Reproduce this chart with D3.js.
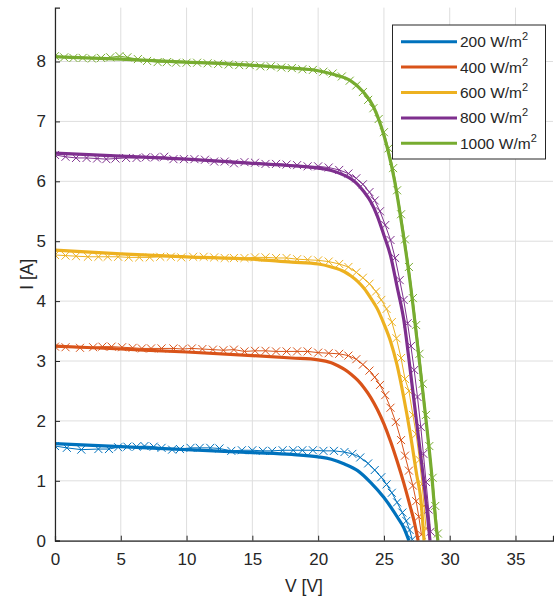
<!DOCTYPE html>
<html>
<head>
<meta charset="utf-8">
<script src="https://cdn.jsdelivr.net/npm/d3@7"></script>
<style>
  body { margin: 0; background: #fff; }
  text { font-family: "Liberation Sans", Arial, sans-serif; fill: #262626; }
</style>
</head>
<body>
<div id="chart"></div>
<script>
// irradiance levels (legend)
var labels = ["200", "400", "600", "800", "1000"];
var colors = ["#0072BD", "#D95319", "#EDB120", "#7E2F8E", "#77AC30"];
var xTicks = [0, 5, 10, 15, 20, 25, 30, 35];
var yTicks = [0, 1, 2, 3, 4, 5, 6, 7, 8];

// model curves [V, I]
var model200 = [[0,1.62],[5,1.57],[10,1.52],[15,1.47],[18,1.44],[20,1.40],[21,1.36],[22,1.28],[23,1.17],[24,0.97],[25,0.72],[26,0.40],[26.5,0.22],[26.9,0]];
var model400 = [[0,3.25],[5,3.20],[10,3.15],[15,3.09],[18,3.05],[20,3.02],[21,2.97],[21.5,2.92],[22,2.86],[22.5,2.78],[23,2.68],[23.5,2.55],[24,2.39],[24.5,2.19],[25,1.95],[25.5,1.66],[26,1.33],[26.5,0.97],[27,0.57],[27.3,0.32],[27.6,0]];
var model600 = [[0,4.85],[5,4.79],[10,4.74],[15,4.70],[18,4.65],[20,4.62],[21,4.57],[22,4.49],[22.5,4.42],[23,4.33],[23.5,4.21],[24,4.05],[24.5,3.87],[25,3.62],[25.5,3.33],[26,2.93],[26.5,2.40],[27,1.79],[27.5,1.09],[27.8,0.70],[28.05,0]];
var model800 = [[0,6.47],[5,6.42],[10,6.37],[15,6.30],[18,6.26],[20,6.22],[21,6.18],[22,6.10],[22.5,6.04],[23,5.95],[23.5,5.82],[24,5.66],[24.5,5.42],[25,5.10],[25.5,4.76],[26,4.24],[26.5,3.70],[27,2.85],[27.5,1.95],[28,1.05],[28.3,0.45],[28.5,0]];
var model1000 = [[0,8.08],[5,8.04],[10,7.99],[14.8,7.94],[18,7.89],[19.9,7.85],[21.4,7.77],[22.4,7.69],[23.4,7.50],[24.2,7.25],[24.8,6.91],[25.3,6.52],[25.8,6.02],[26.46,5.13],[27,4.30],[27.6,3.18],[28,2.40],[28.6,1.18],[29,0.18],[29.1,0]];

// measured points [V, I]
var meas200 = [[0,1.58],[0.9,1.55],[2,1.52],[3.3,1.53],[4.1,1.53],[4.8,1.56],[5.5,1.57],[6.2,1.57],[6.8,1.58],[7.5,1.57],[8.1,1.55],[8.9,1.52],[9.5,1.53],[10.3,1.55],[11,1.55],[11.8,1.55],[12.5,1.54],[13.4,1.50],[14.2,1.51],[15,1.51],[15.8,1.50],[16.5,1.50],[17.3,1.51],[18.1,1.51],[18.8,1.51],[19.6,1.51],[20.4,1.50],[21.2,1.50],[22,1.48],[22.6,1.45],[23.2,1.39],[23.8,1.29],[24.3,1.18],[24.8,1.06],[25.2,0.94],[25.6,0.80],[26,0.64],[26.4,0.47],[26.7,0.33],[26.95,0.18],[27.15,0.02]];
var meas400 = [[0,3.24],[0.8,3.23],[1.9,3.22],[2.9,3.23],[3.6,3.24],[4.3,3.24],[5.1,3.23],[5.9,3.22],[6.6,3.21],[7.3,3.21],[8.1,3.21],[9,3.21],[9.7,3.20],[10.4,3.21],[11.2,3.20],[12,3.19],[12.8,3.18],[13.6,3.19],[14.4,3.16],[15.2,3.17],[16,3.17],[16.8,3.16],[17.6,3.16],[18.4,3.16],[19.2,3.16],[20,3.14],[20.8,3.13],[21.6,3.12],[22.3,3.09],[22.9,3.03],[23.4,2.94],[23.9,2.84],[24.3,2.73],[24.7,2.60],[25.1,2.43],[25.5,2.22],[25.9,1.98],[26.3,1.68],[26.6,1.42],[26.9,1.17],[27.2,0.92],[27.45,0.66],[27.65,0.40],[27.85,0.10]];
var meas600 = [[0,4.77],[0.8,4.76],[1.6,4.75],[2.5,4.74],[3.3,4.74],[4,4.74],[4.8,4.74],[5.6,4.73],[6.4,4.73],[7.2,4.73],[8,4.74],[8.8,4.74],[9.6,4.73],[10.5,4.74],[11.3,4.74],[12.1,4.73],[12.9,4.72],[13.6,4.72],[14.4,4.72],[15.2,4.73],[16,4.73],[16.8,4.72],[17.6,4.72],[18.4,4.70],[19.2,4.69],[20,4.68],[20.8,4.66],[21.6,4.62],[22.3,4.57],[22.9,4.48],[23.4,4.39],[23.9,4.29],[24.4,4.16],[24.8,4.02],[25.2,3.87],[25.6,3.65],[25.95,3.38],[26.3,3.05],[26.6,2.70],[26.9,2.50],[27.2,2.10],[27.45,1.78],[27.7,1.35],[27.9,0.95],[28.05,0.58],[28.2,0.20]];
var meas800 = [[0,6.44],[0.8,6.41],[1.6,6.39],[2.4,6.39],[3.2,6.38],[3.9,6.37],[4.6,6.38],[5.4,6.39],[6.2,6.39],[6.9,6.40],[7.6,6.40],[8.3,6.41],[9,6.37],[9.8,6.37],[10.6,6.37],[11.4,6.36],[12.1,6.33],[12.9,6.33],[13.6,6.30],[14.4,6.32],[15.2,6.31],[16,6.29],[16.8,6.29],[17.6,6.28],[18.4,6.27],[19.2,6.25],[20,6.25],[20.8,6.23],[21.6,6.19],[22.3,6.13],[22.9,6.05],[23.4,5.95],[23.9,5.82],[24.3,5.68],[24.7,5.50],[25.1,5.27],[25.5,5.02],[25.85,4.72],[26.2,4.35],[26.5,4.02],[26.8,3.63],[27.05,3.25],[27.3,2.85],[27.55,2.40],[27.8,1.90],[28,1.45],[28.2,0.98],[28.4,0.52],[28.55,0.15]];
var meas1000 = [[0,8.09],[0.7,8.07],[1.4,8.06],[2.1,8.06],[2.8,8.05],[3.5,8.06],[4.2,8.07],[4.9,8.09],[5.5,8.07],[6.3,8.04],[7,8.01],[7.8,7.99],[8.5,7.99],[9.2,7.98],[10,7.98],[10.8,7.98],[11.6,7.97],[12.4,7.96],[13.2,7.95],[14,7.94],[14.8,7.94],[15.6,7.92],[16.4,7.92],[17.2,7.90],[18,7.89],[18.8,7.87],[19.6,7.86],[20.4,7.83],[21.1,7.80],[21.8,7.75],[22.4,7.68],[22.9,7.60],[23.4,7.49],[23.8,7.36],[24.2,7.22],[24.6,7.04],[25,6.82],[25.35,6.55],[25.7,6.22],[26,5.85],[26.3,5.45],[26.6,5.03],[26.9,4.57],[27.2,4.05],[27.45,3.60],[27.7,3.12],[27.95,2.62],[28.2,2.10],[28.45,1.58],[28.7,1.05],[28.9,0.58],[29.1,0.12]];

var models = [model200, model400, model600, model800, model1000];
var measured = [meas200, meas400, meas600, meas800, meas1000];

var W = 554, H = 601;
var pLeft = 55, pRight = 553, pTop = 7.6, pBottom = 540.7;

var svg = d3.select("#chart").append("svg")
  .attr("width", W).attr("height", H);

var x = d3.scaleLinear().domain([0, 37.85]).range([pLeft, pRight]);
var y = d3.scaleLinear().domain([0, 8.9]).range([pBottom, pTop]);

svg.append("clipPath").attr("id", "clip")
  .append("rect").attr("x", pLeft).attr("y", pTop)
  .attr("width", pRight - pLeft).attr("height", pBottom - pTop);

// grid
svg.append("g").selectAll("line").data(xTicks).enter().append("line")
  .attr("x1", function(d){ return x(d); }).attr("x2", function(d){ return x(d); })
  .attr("y1", pTop).attr("y2", pBottom)
  .attr("stroke", "#dedede").attr("stroke-width", 1);
svg.append("g").selectAll("line").data(yTicks).enter().append("line")
  .attr("x1", pLeft).attr("x2", pRight)
  .attr("y1", function(d){ return y(d); }).attr("y2", function(d){ return y(d); })
  .attr("stroke", "#dedede").attr("stroke-width", 1);

var line = d3.line()
  .x(function(d){ return x(d[0]); })
  .y(function(d){ return y(d[1]); });
var smooth = d3.line()
  .x(function(d){ return x(d[0]); })
  .y(function(d){ return y(d[1]); })
  .curve(d3.curveMonotoneX);

var plot = svg.append("g").attr("clip-path", "url(#clip)");

for (var i = 0; i < labels.length; i++) {
  plot.append("path")
    .attr("d", smooth(models[i]))
    .attr("fill", "none")
    .attr("stroke", colors[i])
    .attr("stroke-width", 3.2);

  plot.append("path")
    .attr("d", line(measured[i]))
    .attr("fill", "none")
    .attr("stroke", colors[i])
    .attr("stroke-width", 1);

  var s = 4;
  plot.append("g").selectAll("path").data(measured[i]).enter().append("path")
    .attr("d", function(d){
      var cx = x(d[0]), cy = y(d[1]);
      return "M" + (cx - s) + "," + (cy - s) + "L" + (cx + s) + "," + (cy + s) +
             "M" + (cx - s) + "," + (cy + s) + "L" + (cx + s) + "," + (cy - s);
    })
    .attr("stroke", colors[i])
    .attr("stroke-width", 1);
}

// axes
var xAxis = svg.append("g")
  .attr("transform", "translate(0," + pBottom + ")")
  .call(d3.axisBottom(x).tickValues(xTicks).tickSize(-5).tickPadding(12));
var yAxis = svg.append("g")
  .attr("transform", "translate(" + pLeft + ",0)")
  .call(d3.axisLeft(y).tickValues(yTicks).tickSize(-5).tickPadding(9));

[xAxis, yAxis].forEach(function(a){
  a.select(".domain").attr("stroke", "#262626").attr("stroke-width", 1.2);
  a.selectAll(".tick line").attr("stroke", "#262626");
  a.selectAll(".tick text").style("font-size", "17px")
    .style("font-family", "'Liberation Sans', Arial, sans-serif").attr("fill", "#262626");
});

svg.append("text")
  .attr("x", (pLeft + pRight) / 2).attr("y", 592)
  .attr("text-anchor", "middle")
  .style("font-size", "17.5px")
  .text("V [V]");

svg.append("text")
  .attr("transform", "translate(33," + ((pTop + pBottom) / 2) + ") rotate(-90)")
  .attr("text-anchor", "middle")
  .style("font-size", "17.5px")
  .text("I [A]");

// legend
var lg = svg.append("g");
lg.append("rect")
  .attr("x", 392.5).attr("y", 25).attr("width", 153).attr("height", 134)
  .attr("fill", "#fff").attr("stroke", "#262626").attr("stroke-width", 1);

labels.forEach(function(lab, i){
  var ly = 41.7 + i * 25.4;
  lg.append("line")
    .attr("x1", 401).attr("x2", 457)
    .attr("y1", ly).attr("y2", ly)
    .attr("stroke", colors[i]).attr("stroke-width", 3);
  var t = lg.append("text")
    .attr("x", 460).attr("y", ly + 5.5)
    .style("font-size", "15.5px");
  t.append("tspan").text(lab + " W/m");
  t.append("tspan").attr("dy", -7).style("font-size", "11px").text("2");
});
</script>
</body>
</html>
